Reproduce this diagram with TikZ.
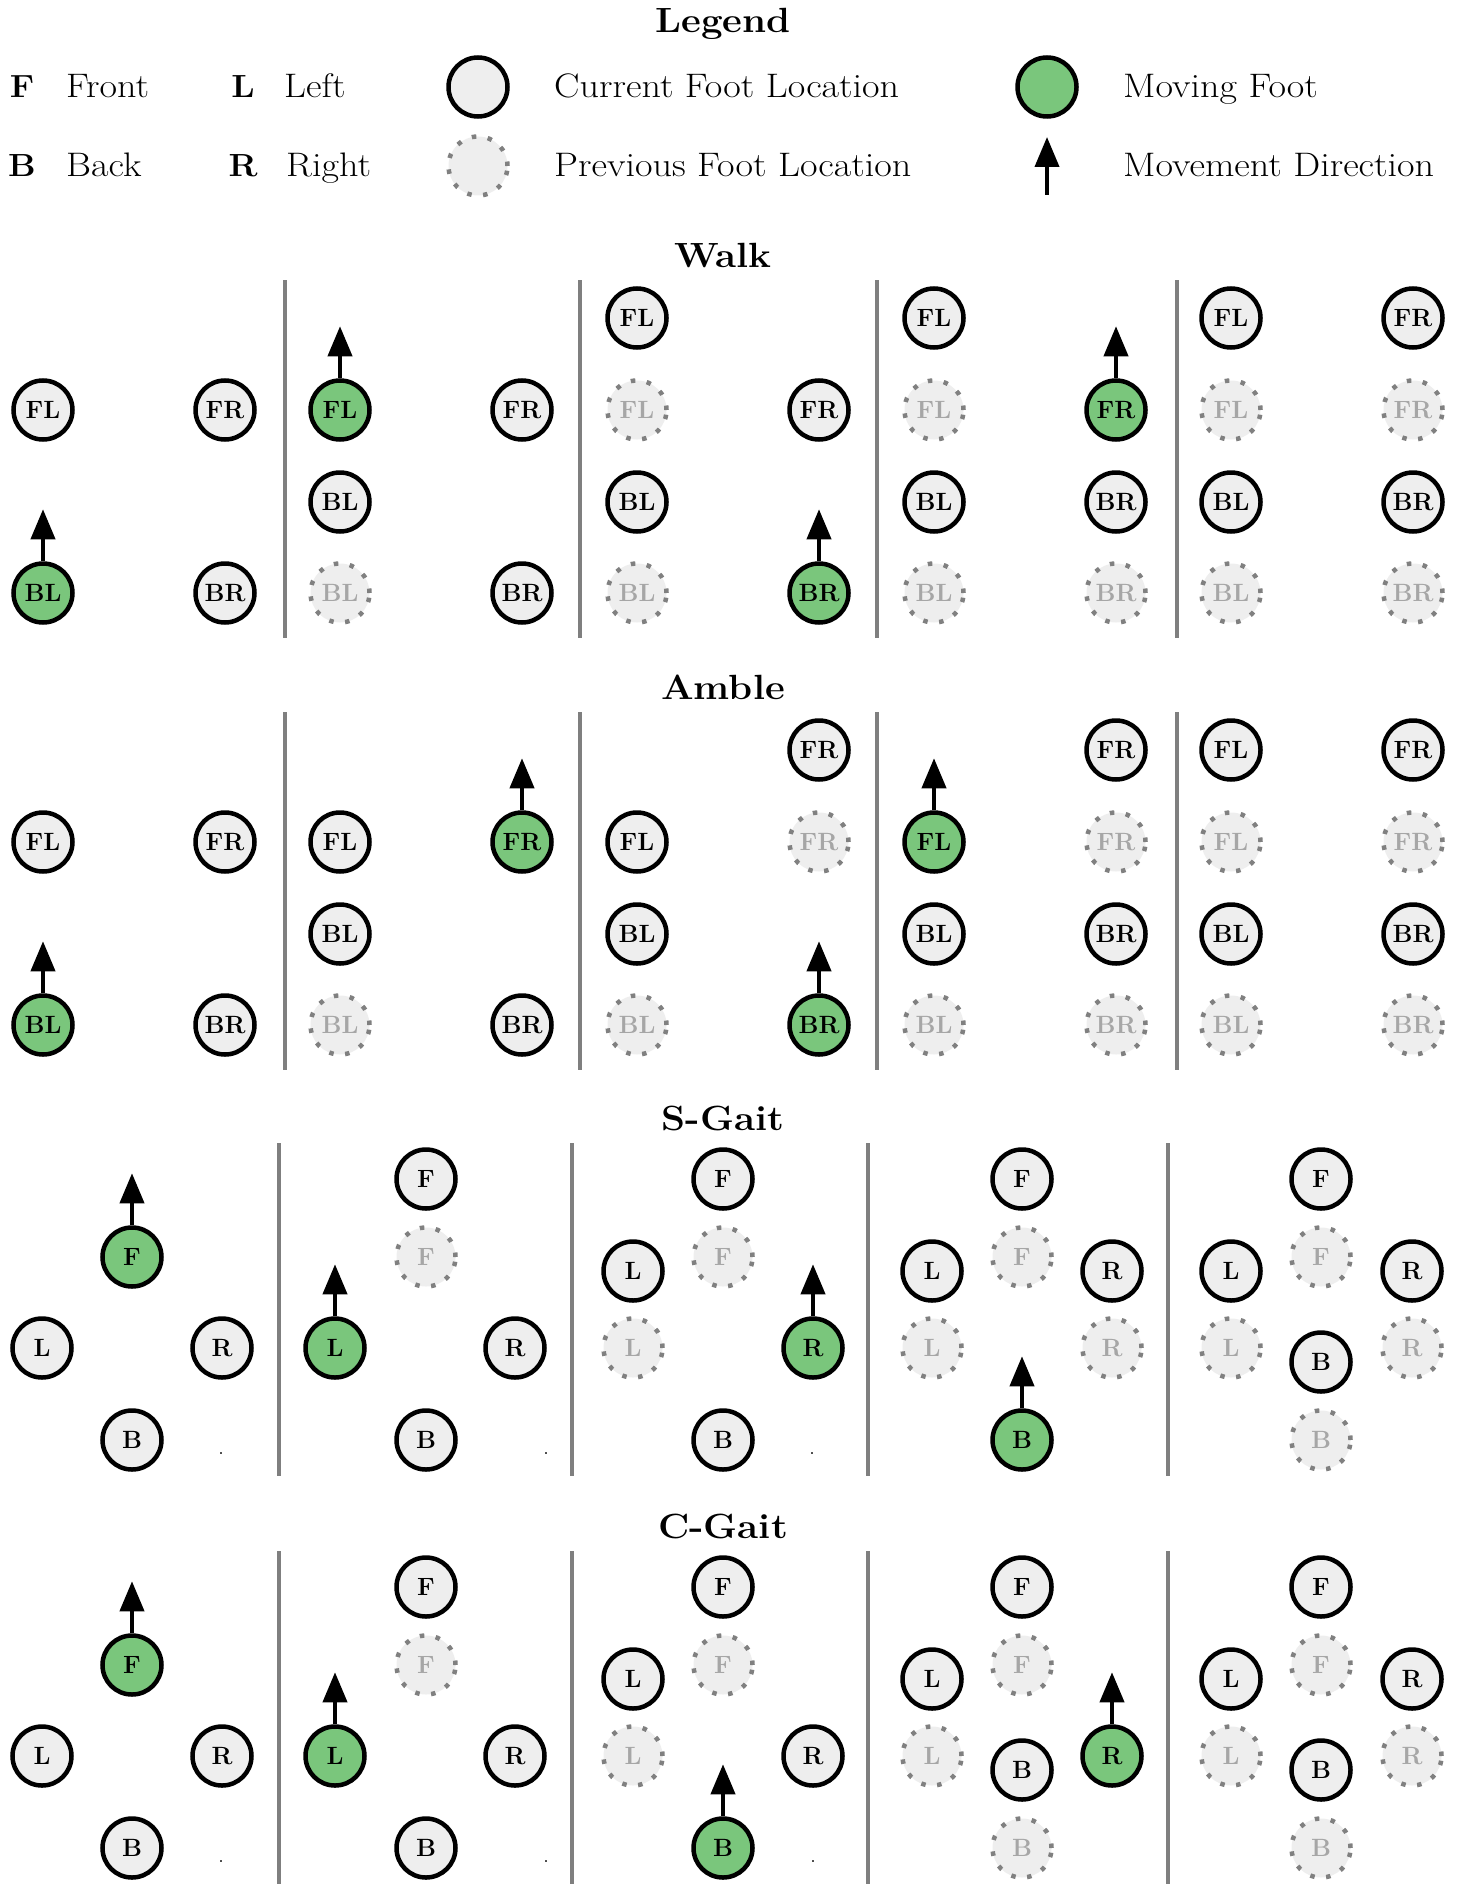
\documentclass[tikz,border=0pt]{standalone}
\usepackage{fontspec}
\usetikzlibrary{arrows.meta}
\definecolor{footgray}{HTML}{EEEEEE}
\definecolor{footgreen}{HTML}{7AC67C}
\definecolor{dotgray}{HTML}{808080}
\definecolor{lblgray}{HTML}{A6A6A6}
\definecolor{divgray}{HTML}{7F7F7F}
\newcommand\fc[4]{\node[curfoot] (#1) at (#2,#3) {#4};}
\newcommand\fp[4]{\node[prevfoot] (#1) at (#2,#3) {#4};}
\newcommand\fm[4]{\node[movfoot] (#1) at (#2,#3) {#4};
  \coordinate (#1t) at ([yshift=52pt]#1.north);
  \draw[mvarr] (#1.north) -- (#1t);}
\newcommand\pdiv[3]{\draw[divider] (#1,#2) -- (#1,#3);}
\begin{document}
\begin{tikzpicture}[x=1pt,y=-1pt,
  foot/.style={circle, minimum size=59pt, inner sep=0pt, line width=4.5pt,
    fill=footgray, font=\fontsize{25}{29}\selectfont\bfseries},
  curfoot/.style={foot, draw=black},
  movfoot/.style={foot, draw=black, fill=footgreen},
  prevfoot/.style={foot, draw=dotgray, dash pattern=on 4.5pt off 11.5pt, text=lblgray},
  mvarr/.style={-{Triangle[length=30pt,width=24pt]}, line width=4pt},
  divider/.style={draw=divgray, line width=3.8pt},
  title/.style={anchor=base, inner sep=0pt, xscale=1.1, transform shape,
    font=\fontsize{35}{40}\selectfont\bfseries},
  legtxt/.style={anchor=base west, inner sep=0pt, xscale=1.12, transform shape,
    font=\fontsize{34}{40}\selectfont},
  legkey/.style={anchor=base, inner sep=0pt, xscale=1.08, transform shape,
    font=\fontsize{32}{40}\selectfont\bfseries},
  pdot/.style={anchor=base, inner sep=0pt, font=\fontsize{24}{28}\selectfont}
]
\fill[white] (0,0) rectangle (1456,1894);
\useasboundingbox (0,0) rectangle (1456,1894);

% ---------- Legend ----------
\node[title] (tLegend) at (723,33) {Legend};
\node[legkey] (kF) at (22,98) {F};
\node[legtxt] (tF) at (66,98) {Front};
\node[legkey] (kL) at (243,98) {L};
\node[legtxt] (tL) at (284,98) {Left};
\node[curfoot] (lgCur) at (478,87) {};
\node[legtxt] (tCur) at (554,98) {Current Foot Location};
\node[movfoot] (lgMov) at (1047,87) {};
\node[legtxt] (tMov) at (1123,98) {Moving Foot};
\node[legkey] (kB) at (22,177) {B};
\node[legtxt] (tB) at (66,177) {Back};
\node[legkey] (kR) at (243,177) {R};
\node[legtxt] (tR) at (286,177) {Right};
\node[prevfoot] (lgPrev) at (478,166) {};
\node[legtxt] (tPrev) at (554,177) {Previous Foot Location};
\coordinate (lgA1) at (1047,195);
\coordinate (lgA2) at (1047,137);
\draw[mvarr] (lgA1) -- (lgA2);
\node[legtxt] (tDir) at (1123,177) {Movement Direction};

% ---------- Walk ----------
\node[title] (tWalk) at (723,267) {Walk};
\pdiv{285}{280}{638}\pdiv{580}{280}{638}\pdiv{877}{280}{638}\pdiv{1177}{280}{638}
\fc{w1FL}{43}{410}{FL} \fc{w1FR}{225}{410}{FR} \fm{w1BL}{43}{593}{BL} \fc{w1BR}{225}{593}{BR}
\fm{w2FL}{340}{410}{FL} \fc{w2FR}{522}{410}{FR} \fc{w2BL}{340}{502}{BL}
\fp{w2BLp}{340}{593}{BL} \fc{w2BR}{522}{593}{BR}
\fc{w3FL}{637}{318}{FL} \fp{w3FLp}{637}{410}{FL} \fc{w3FR}{819}{410}{FR}
\fc{w3BL}{637}{502}{BL} \fp{w3BLp}{637}{593}{BL} \fm{w3BR}{819}{593}{BR}
\fc{w4FL}{934}{318}{FL} \fp{w4FLp}{934}{410}{FL} \fm{w4FR}{1116}{410}{FR}
\fc{w4BL}{934}{502}{BL} \fc{w4BR}{1116}{502}{BR} \fp{w4BLp}{934}{593}{BL} \fp{w4BRp}{1116}{593}{BR}
\fc{w5FL}{1231}{318}{FL} \fc{w5FR}{1413}{318}{FR} \fp{w5FLp}{1231}{410}{FL} \fp{w5FRp}{1413}{410}{FR}
\fc{w5BL}{1231}{502}{BL} \fc{w5BR}{1413}{502}{BR} \fp{w5BLp}{1231}{593}{BL} \fp{w5BRp}{1413}{593}{BR}

% ---------- Amble ----------
\node[title] (tAmble) at (723,699) {Amble};
\pdiv{285}{712}{1070}\pdiv{580}{712}{1070}\pdiv{877}{712}{1070}\pdiv{1177}{712}{1070}
\fc{a1FL}{43}{842}{FL} \fc{a1FR}{225}{842}{FR} \fm{a1BL}{43}{1025}{BL} \fc{a1BR}{225}{1025}{BR}
\fc{a2FL}{340}{842}{FL} \fm{a2FR}{522}{842}{FR} \fc{a2BL}{340}{934}{BL}
\fp{a2BLp}{340}{1025}{BL} \fc{a2BR}{522}{1025}{BR}
\fc{a3FR}{819}{750}{FR} \fc{a3FL}{637}{842}{FL} \fp{a3FRp}{819}{842}{FR}
\fc{a3BL}{637}{934}{BL} \fp{a3BLp}{637}{1025}{BL} \fm{a3BR}{819}{1025}{BR}
\fc{a4FR}{1116}{750}{FR} \fm{a4FL}{934}{842}{FL} \fp{a4FRp}{1116}{842}{FR}
\fc{a4BL}{934}{934}{BL} \fc{a4BR}{1116}{934}{BR} \fp{a4BLp}{934}{1025}{BL} \fp{a4BRp}{1116}{1025}{BR}
\fc{a5FL}{1231}{750}{FL} \fc{a5FR}{1413}{750}{FR} \fp{a5FLp}{1231}{842}{FL} \fp{a5FRp}{1413}{842}{FR}
\fc{a5BL}{1231}{934}{BL} \fc{a5BR}{1413}{934}{BR} \fp{a5BLp}{1231}{1025}{BL} \fp{a5BRp}{1413}{1025}{BR}

% ---------- S-Gait ----------
\node[title] (tSGait) at (723,1130) {S-Gait};
\pdiv{279}{1143}{1476}\pdiv{572}{1143}{1476}\pdiv{868}{1143}{1476}\pdiv{1168}{1143}{1476}
\fm{s1F}{132}{1257}{F} \fc{s1L}{42}{1348}{L} \fc{s1R}{222}{1348}{R} \fc{s1B}{132}{1440}{B}
\node[pdot] (s1dot) at (221,1454) {.};
\fc{s2F}{426}{1179}{F} \fp{s2Fp}{426}{1257}{F} \fm{s2L}{335}{1348}{L} \fc{s2R}{515}{1348}{R}
\fc{s2B}{426}{1440}{B}
\node[pdot] (s2dot) at (546,1454) {.};
\fc{s3F}{723}{1179}{F} \fp{s3Fp}{723}{1257}{F} \fc{s3L}{633}{1271}{L} \fp{s3Lp}{633}{1348}{L}
\fm{s3R}{813}{1348}{R} \fc{s3B}{723}{1440}{B}
\node[pdot] (s3dot) at (812,1454) {.};
\fc{s4F}{1022}{1179}{F} \fp{s4Fp}{1022}{1257}{F} \fc{s4L}{932}{1271}{L} \fc{s4R}{1112}{1271}{R}
\fp{s4Lp}{932}{1348}{L} \fp{s4Rp}{1112}{1348}{R} \fm{s4B}{1022}{1440}{B}
\fc{s5F}{1321}{1179}{F} \fp{s5Fp}{1321}{1257}{F} \fc{s5L}{1231}{1271}{L} \fc{s5R}{1412}{1271}{R}
\fp{s5Lp}{1231}{1348}{L} \fp{s5Rp}{1412}{1348}{R} \fc{s5B}{1321}{1362}{B} \fp{s5Bp}{1321}{1440}{B}

% ---------- C-Gait ----------
\node[title] (tCGait) at (723,1538) {C-Gait};
\pdiv{279}{1551}{1884}\pdiv{572}{1551}{1884}\pdiv{868}{1551}{1884}\pdiv{1168}{1551}{1884}
\fm{c1F}{132}{1665}{F} \fc{c1L}{42}{1756}{L} \fc{c1R}{222}{1756}{R} \fc{c1B}{132}{1848}{B}
\node[pdot] (c1dot) at (221,1862) {.};
\fc{c2F}{426}{1587}{F} \fp{c2Fp}{426}{1665}{F} \fm{c2L}{335}{1756}{L} \fc{c2R}{515}{1756}{R}
\fc{c2B}{426}{1848}{B}
\node[pdot] (c2dot) at (546,1862) {.};
\fc{c3F}{723}{1587}{F} \fp{c3Fp}{723}{1665}{F} \fc{c3L}{633}{1679}{L} \fp{c3Lp}{633}{1756}{L}
\fc{c3R}{813}{1756}{R} \fm{c3B}{723}{1848}{B}
\node[pdot] (c3dot) at (813,1862) {.};
\fc{c4F}{1022}{1587}{F} \fp{c4Fp}{1022}{1665}{F} \fc{c4L}{932}{1679}{L} \fp{c4Lp}{932}{1756}{L}
\fc{c4B}{1022}{1770}{B} \fp{c4Bp}{1022}{1848}{B} \fm{c4R}{1112}{1756}{R}
\fc{c5F}{1321}{1587}{F} \fp{c5Fp}{1321}{1665}{F} \fc{c5L}{1231}{1679}{L} \fc{c5R}{1412}{1679}{R}
\fp{c5Lp}{1231}{1756}{L} \fp{c5Rp}{1412}{1756}{R} \fc{c5B}{1321}{1770}{B} \fp{c5Bp}{1321}{1848}{B}
\end{tikzpicture}
\end{document}
